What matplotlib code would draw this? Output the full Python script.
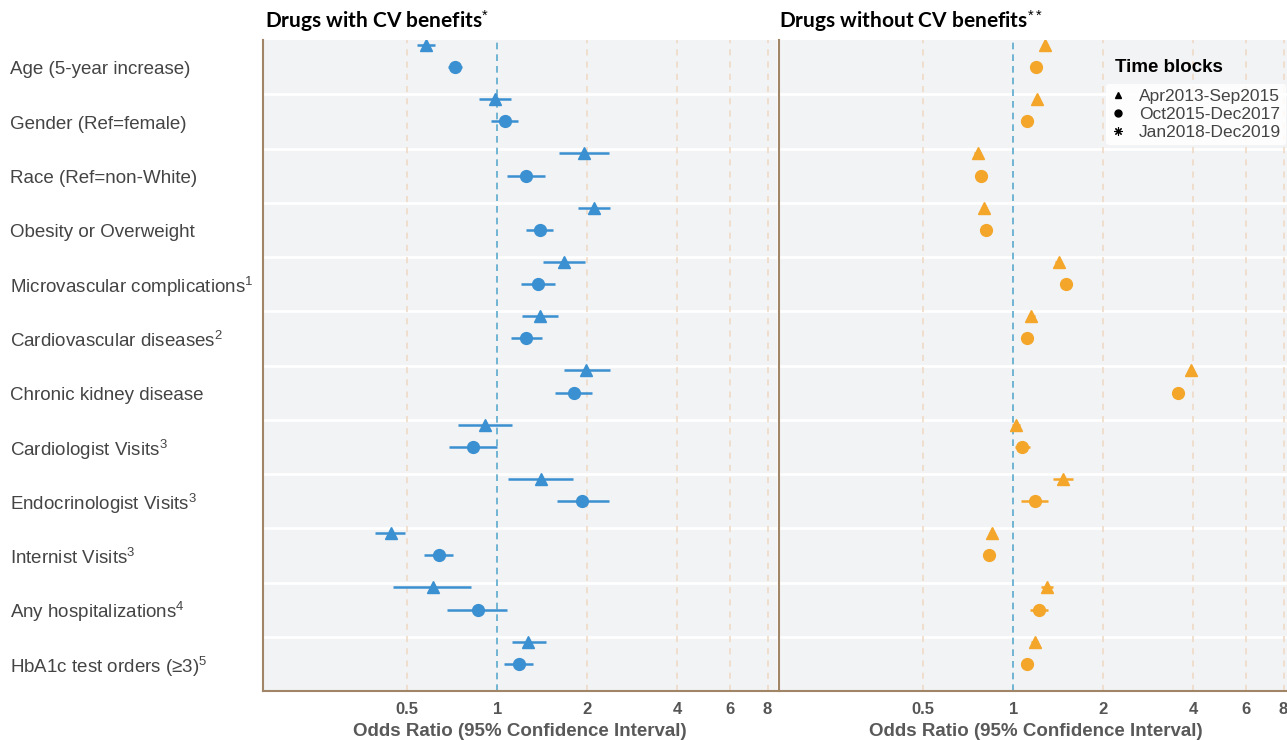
import matplotlib
matplotlib.use('Agg')
import matplotlib.pyplot as plt
import matplotlib.transforms as mtransforms
from matplotlib.lines import Line2D
import numpy as np

plt.rcParams['font.family'] = ['Liberation Sans', 'DejaVu Sans']
plt.rcParams['mathtext.fontset'] = 'custom'
plt.rcParams['mathtext.rm'] = 'Liberation Sans'
plt.rcParams['mathtext.it'] = 'Liberation Sans'
plt.rcParams['mathtext.bf'] = 'Liberation Sans:bold'

# --- data (odds ratios) ---
categories = [
    'Age (5-year increase)',
    'Gender (Ref=female)',
    'Race (Ref=non-White)',
    'Obesity or Overweight',
    'Microvascular complications$^{1}$',
    'Cardiovascular diseases$^{2}$',
    'Chronic kidney disease',
    'Cardiologist Visits$^{3}$',
    'Endocrinologist Visits$^{3}$',
    'Internist Visits$^{3}$',
    'Any hospitalizations$^{4}$',
    'HbA1c test orders (≥3)$^{5}$',
]
time_blocks = ['Apr2013-Sep2015', 'Oct2015-Dec2017', 'Jan2018-Dec2019']
x_ticks = [0.5, 1, 2, 4, 6, 8]
x_tick_labels = ['0.5', '1', '2', '4', '6', '8']

# drugs with CV benefits
cv_tri = [0.58, 0.98, 1.95, 2.11, 1.67, 1.39, 1.98, 0.91, 1.40, 0.44, 0.61, 1.27]
cv_tri_lo = [0.54, 0.87, 1.61, 1.86, 1.42, 1.21, 1.67, 0.74, 1.09, 0.39, 0.45, 1.12]
cv_tri_hi = [0.62, 1.11, 2.36, 2.38, 1.96, 1.60, 2.38, 1.12, 1.79, 0.49, 0.82, 1.45]
cv_circ = [0.72, 1.06, 1.25, 1.39, 1.37, 1.25, 1.80, 0.83, 1.92, 0.64, 0.86, 1.18]
cv_circ_lo = [0.685, 0.95, 1.08, 1.25, 1.20, 1.11, 1.56, 0.69, 1.58, 0.57, 0.68, 1.05]
cv_circ_hi = [0.76, 1.17, 1.44, 1.54, 1.56, 1.41, 2.08, 1.00, 2.36, 0.71, 1.08, 1.32]

# drugs without CV benefits
ncv_tri = [1.28, 1.20, 0.76, 0.80, 1.42, 1.15, 3.93, 1.02, 1.47, 0.85, 1.30, 1.18]
ncv_tri_lo = [1.25, 1.17, 0.74, 0.78, 1.38, 1.12, 3.85, 0.99, 1.36, 0.83, 1.24, 1.15]
ncv_tri_hi = [1.31, 1.23, 0.78, 0.82, 1.46, 1.18, 4.01, 1.05, 1.58, 0.87, 1.36, 1.21]
ncv_circ = [1.19, 1.11, 0.78, 0.81, 1.50, 1.11, 3.54, 1.07, 1.18, 0.83, 1.22, 1.11]
ncv_circ_lo = [1.16, 1.07, 0.76, 0.79, 1.45, 1.08, 3.42, 1.01, 1.06, 0.81, 1.14, 1.08]
ncv_circ_hi = [1.22, 1.15, 0.81, 0.84, 1.56, 1.15, 3.66, 1.14, 1.31, 0.85, 1.31, 1.15]

BLUE = '#3a90d1'
ORANGE = '#f4a62a'
PANEL_BG = '#f2f3f5'
GRID = '#efd8c2'
REF = '#5aa9cc'
SPINE = '#a08566'
TEXT = '#444444'


def draw_panel(ax, tri, tri_lo, tri_hi, circ, circ_lo, circ_hi, color):
    y = np.arange(len(categories))
    tri, tri_lo, tri_hi = map(np.array, (tri, tri_lo, tri_hi))
    circ, circ_lo, circ_hi = map(np.array, (circ, circ_lo, circ_hi))
    ax.set_facecolor(PANEL_BG)
    ax.set_xscale('log')
    ax.set_xlim(0.165, 8.6)
    ax.set_ylim(len(categories) - 0.5, -0.5)
    for b in np.arange(0.5, len(categories) - 0.5):
        ax.axhline(b, color='white', lw=2, zorder=1)
    for t in [0.5, 2, 4, 6, 8]:
        ax.axvline(t, color=GRID, ls=(0, (4, 4)), lw=1.1, zorder=1)
    ax.axvline(1, color=REF, ls=(0, (4, 3)), lw=1.2, zorder=1)
    ax.errorbar(tri, y - 0.41, xerr=[tri - tri_lo, tri_hi - tri], fmt='^',
                color=color, ms=8.5, elinewidth=1.8, capsize=0, zorder=3)
    ax.errorbar(circ, y, xerr=[circ - circ_lo, circ_hi - circ], fmt='o',
                color=color, ms=8.5, elinewidth=1.8, capsize=0, zorder=3)
    ax.set_xticks(x_ticks)
    ax.set_xticklabels(x_tick_labels, fontsize=12, fontweight='bold', color='#555555')
    ax.xaxis.set_minor_locator(matplotlib.ticker.NullLocator())
    ax.tick_params(axis='x', length=0, pad=8)
    ax.set_yticks([])
    ax.set_xlabel('Odds Ratio (95% Confidence Interval)', fontsize=13.5,
                  fontweight='bold', color='#595959', labelpad=4)
    for s in ['top', 'right']:
        ax.spines[s].set_visible(False)
    for s in ['left', 'bottom']:
        ax.spines[s].set_color(SPINE)
        ax.spines[s].set_linewidth(1.5)


fig = plt.figure(figsize=(12.87, 7.40), dpi=100)
ax1 = fig.add_axes([263 / 1287, 1 - 691 / 740, 514 / 1287, 651 / 740])
ax2 = fig.add_axes([779 / 1287, 1 - 691 / 740, 514 / 1287, 651 / 740])

draw_panel(ax1, cv_tri, cv_tri_lo, cv_tri_hi, cv_circ, cv_circ_lo, cv_circ_hi, BLUE)
draw_panel(ax2, ncv_tri, ncv_tri_lo, ncv_tri_hi, ncv_circ, ncv_circ_lo, ncv_circ_hi, ORANGE)

# row labels, left aligned near the figure edge
trans = mtransforms.blended_transform_factory(fig.transFigure, ax1.transData)
for i, lab in enumerate(categories):
    fig.text(10 / 1287, i + 0.05, lab, transform=trans, ha='left', va='center',
             fontsize=13.5, color=TEXT)

fig.text(265 / 1287, 1 - 21 / 740, 'Drugs with CV benefits$^{*}$', fontsize=15,
         fontweight='bold', family=['Lato', 'DejaVu Sans'], ha='left', va='center')
fig.text(779 / 1287, 1 - 21 / 740, 'Drugs without CV benefits$^{**}$', fontsize=15,
         fontweight='bold', family=['Lato', 'DejaVu Sans'], ha='left', va='center')

# legend
fig.text(1115 / 1287, 1 - 67 / 740, 'Time blocks', fontsize=13.5, fontweight='bold',
         color='black', ha='left', va='center')
handles = [
    Line2D([], [], ls='none', marker='^', color='black', ms=5),
    Line2D([], [], ls='none', marker='o', color='black', ms=5),
    Line2D([], [], ls='none', marker=(8, 2, 0), color='black', ms=6, mew=0.8),
]
leg = ax2.legend(handles, time_blocks, loc='upper left',
                 bbox_to_anchor=(1106 / 1287, 1 - 84 / 740),
                 bbox_transform=fig.transFigure, frameon=True, fontsize=12.5,
                 handlelength=0.8, handletextpad=0.8, labelspacing=0.15,
                 borderpad=0.3, borderaxespad=0)
leg.get_frame().set_facecolor('white')
leg.get_frame().set_edgecolor('none')
leg.get_frame().set_alpha(0.85)
for t in leg.get_texts():
    t.set_color(TEXT)

fig.savefig('out.png', dpi=100)
